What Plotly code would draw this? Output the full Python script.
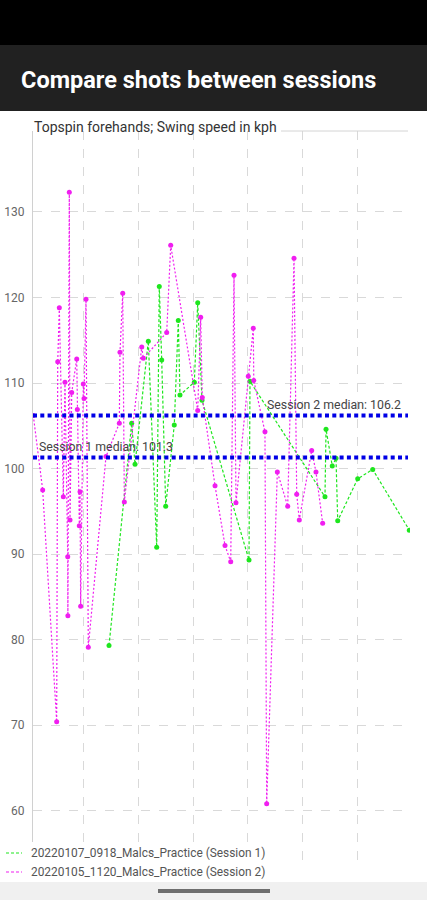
import plotly.graph_objects as go

# ---------------- data ----------------
session1_name = "20220107_0918_Malcs_Practice (Session 1)"
session2_name = "20220105_1120_Malcs_Practice (Session 2)"

s1_x = [14.70, 18.83, 19.44, 21.86, 23.39, 23.86, 24.30, 25.03, 26.59, 27.32, 27.63,
        30.24, 30.86, 31.64, 40.20, 40.38, 54.04, 54.23, 55.37, 56.05, 56.36, 60.00,
        62.73, 69.40]
s1_y = [79.3, 105.3, 100.5, 114.9, 90.8, 121.3, 112.7, 95.6, 105.1, 117.3, 108.6,
        110.1, 119.4, 108.0, 89.3, 110.2, 96.7, 104.6, 100.3, 101.2, 93.9, 98.8,
        99.9, 92.8]

s2_x = [0.91, 2.62, 5.17, 5.36, 5.65, 6.38, 6.68, 7.18, 7.21, 7.47, 7.60, 7.91,
        8.82, 8.93, 9.29, 9.42, 9.54, 10.02, 10.15, 10.51, 10.93, 14.15, 16.58,
        16.70, 17.20, 17.49, 20.66, 20.95, 25.21, 25.94, 30.86, 31.40, 31.69,
        34.01, 35.83, 36.87, 37.47, 37.83, 40.07, 40.98, 41.07, 43.11, 43.42,
        45.36, 47.25, 48.40, 48.89, 49.36, 51.62, 52.40, 53.62]
s2_y = [106.2, 97.5, 70.4, 112.5, 118.8, 96.7, 110.1, 89.7, 82.8, 132.3, 94.0, 108.9,
        112.8, 106.9, 93.3, 97.3, 83.9, 109.9, 108.2, 119.8, 79.1, 101.4, 105.3,
        113.6, 120.5, 96.1, 114.2, 112.9, 115.9, 126.1, 106.8, 117.7, 108.3,
        98.0, 91.0, 89.1, 122.6, 96.0, 110.8, 116.4, 110.3, 104.3, 60.8,
        99.6, 95.6, 124.6, 97.0, 94.0, 102.1, 99.6, 93.6]

median_labels = ["Session 1 median", "Session 2 median"]
median_values = [101.3, 106.2]

y_ticks = [60, 70, 80, 90, 100, 110, 120, 130]

app_title = "Compare shots between sessions"
chart_title = "Topspin forehands; Swing speed in kph"

# ---------------- styling / layout helpers ----------------
W, H = 427, 900
L, R, T, B = 33, 410, 131, 863
GREEN = "#1ee61e"
MAGENTA = "#f01ef0"
BLUE = "#0000e6"


def px(x):
    return (x - L) / (R - L)


def py(y):
    return (B - y) / (B - T)


fig = go.Figure()

fig.add_trace(go.Scatter(
    x=s1_x, y=s1_y, mode="lines+markers", name=session1_name,
    line=dict(color=GREEN, width=1.2, dash="3px,2px"),
    marker=dict(color=GREEN, size=5),
    showlegend=False, hoverinfo="x+y"))

fig.add_trace(go.Scatter(
    x=s2_x, y=s2_y, mode="lines+markers", name=session2_name,
    line=dict(color=MAGENTA, width=1.2, dash="2px,2px"),
    marker=dict(color=MAGENTA, size=5),
    showlegend=False, hoverinfo="x+y"))

shapes = []
annotations = []

# header bars
shapes.append(dict(type="rect", xref="paper", yref="paper", x0=px(0), x1=px(W),
                   y0=py(45), y1=py(0), fillcolor="#000000", line=dict(width=0), layer="above"))
shapes.append(dict(type="rect", xref="paper", yref="paper", x0=px(0), x1=px(W),
                   y0=py(111), y1=py(45), fillcolor="#212121", line=dict(width=0), layer="above"))
annotations.append(dict(text=app_title, xref="paper", yref="paper", x=px(19), y=py(80),
                        xanchor="left", yanchor="middle", showarrow=False,
                        font=dict(family="Roboto", size=23.5, color="#ffffff", weight="bold")))

# chart title and top line
annotations.append(dict(text=chart_title, xref="paper", yref="paper", x=px(32), y=py(127),
                        xanchor="left", yanchor="middle", showarrow=False,
                        font=dict(family="Roboto", size=14, color="#333333")))
shapes.append(dict(type="line", xref="paper", yref="paper", x0=px(281), x1=px(408),
                   y0=py(131), y1=py(131), line=dict(color="#d4d4d4", width=1)))

# median lines
for lab, val in zip(median_labels, median_values):
    shapes.append(dict(type="line", xref="paper", yref="y", x0=0, x1=px(408), y0=val, y1=val,
                       line=dict(color=BLUE, width=4, dash="4px,3.3px"), layer="above"))
for lab, val in zip(median_labels, median_values):
    if val == max(median_values):
        annotations.append(dict(text=f"{lab}: {val}", xref="paper", yref="y", x=px(403), y=val,
                                xanchor="right", yanchor="middle", yshift=11, showarrow=False,
                                font=dict(family="Roboto", size=12.3, color="#444444")))
    else:
        annotations.append(dict(text=f"{lab}: {val}", xref="paper", yref="y", x=px(37), y=val,
                                xanchor="left", yanchor="middle", yshift=10, showarrow=False,
                                font=dict(family="Roboto", size=12.3, color="#444444")))

# custom legend
shapes.append(dict(type="rect", xref="paper", yref="paper", x0=px(0), x1=px(266),
                   y0=py(882), y1=py(842), fillcolor="#ffffff", line=dict(width=0), layer="above"))
for name, col, yy in [(session1_name, GREEN, 853), (session2_name, MAGENTA, 872)]:
    shapes.append(dict(type="line", xref="paper", yref="paper", x0=px(6), x1=px(22),
                       y0=py(yy), y1=py(yy), line=dict(color=col, width=1.2, dash="3px,2px"),
                       layer="above"))
    annotations.append(dict(text=name, xref="paper", yref="paper", x=px(28.5), y=py(yy),
                            xanchor="left", yanchor="middle", showarrow=False,
                            font=dict(family="Roboto", size=11.9, color="#555555")))

# bottom nav bar
shapes.append(dict(type="rect", xref="paper", yref="paper", x0=px(0), x1=px(W),
                   y0=py(H), y1=py(882), fillcolor="#f0f0f0", line=dict(width=0), layer="above"))
shapes.append(dict(type="rect", xref="paper", yref="paper", x0=px(158), x1=px(270),
                   y0=py(893), y1=py(889), fillcolor="#6e6e6e", line=dict(width=0), layer="above"))

fig.update_layout(
    width=W, height=H,
    margin=dict(l=L, r=W - R, t=T, b=H - B, pad=0, autoexpand=False),
    plot_bgcolor="#ffffff", paper_bgcolor="#ffffff",
    showlegend=False,
    shapes=shapes, annotations=annotations,
    xaxis=dict(range=[(L - 28.3) / 5.49, (R - 28.3) / 5.49], tick0=0, dtick=10,
               showticklabels=False, ticks="", showgrid=True, gridcolor="#d9d9d9",
               griddash="dash", gridwidth=1, zeroline=False, showline=False, fixedrange=True,
               automargin=False),
    yaxis=dict(range=[53.88, 139.47], tickvals=y_ticks, showgrid=True, gridcolor="#d9d9d9",
               griddash="dash", gridwidth=1, zeroline=False, showline=True,
               linecolor="#d0d0d0", linewidth=1, ticks="", ticklabelstandoff=5,
               tickfont=dict(family="Roboto", size=12, color="#666666"), fixedrange=True,
               automargin=False),
)

fig.write_html(
    "out.html",
    config={"displayModeBar": False},
    post_script=(
        "document.documentElement.style.margin='0';"
        "document.documentElement.style.padding='0';"
        "document.body.style.margin='0';document.body.style.padding='0';"
        "document.body.style.overflow='hidden';"
        "var gd=document.getElementById('{plot_id}');"
        "gd.style.position='fixed';gd.style.left='0px';gd.style.top='0px';"
    ),
)
